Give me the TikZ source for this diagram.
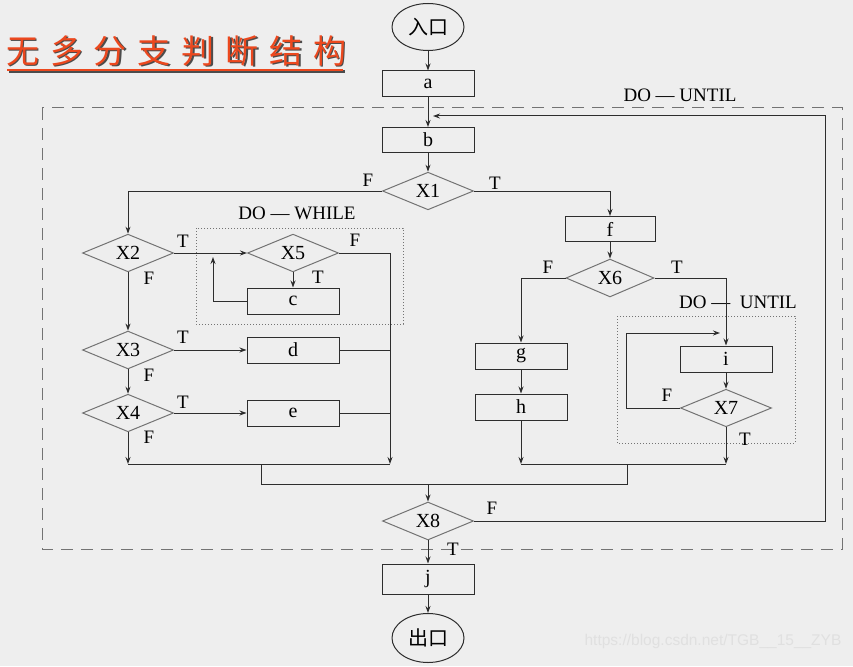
\documentclass[tikz,border=0pt]{standalone}
\usepackage{fontspec}
\setmainfont{Liberation Serif}
\newfontfamily\cjk{Noto Sans CJK SC}
\newfontfamily\titlefont[LetterSpace=33]{Noto Sans CJK SC}
\newfontfamily\wmfont{Liberation Sans}
\usetikzlibrary{shapes.geometric,arrows.meta}
\definecolor{bgcol}{RGB}{238,238,238}
\definecolor{titlered}{RGB}{236,72,30}
\definecolor{linegray}{RGB}{45,45,45}
\definecolor{edgegray}{RGB}{115,115,115}

\tikzset{
    proc/.style={draw=linegray, line width=1pt, rectangle, minimum width=92pt,
        minimum height=26pt, inner sep=0pt, font=\fontsize{20}{22}\selectfont},
    cond/.style={draw=edgegray, line width=1pt, diamond, minimum width=91pt,
        minimum height=33pt, inner sep=0pt, font=\fontsize{20}{22}\selectfont},
    term/.style={draw=linegray, line width=1pt, ellipse, minimum width=72pt,
        minimum height=47pt, inner sep=0pt, font=\cjk\fontsize{20}{22}\selectfont},
    flow/.style={draw=linegray, line width=1pt},
    arr/.style={flow, -{Stealth[length=7pt,width=5pt]}},
    lbl/.style={inner sep=0pt, font=\fontsize{19}{20}\selectfont},
    loopbox/.style={draw=edgegray, line width=1pt, dotted},
    heading/.style={inner sep=0pt, font=\titlefont\fontsize{33}{36}\selectfont},
}

\begin{document}
\begin{tikzpicture}[x=1pt,y=-1pt]
        % Background and title
        \fill[bgcol] (0,0) rectangle (853,666);
        \node[heading, text=black!70, anchor=west] (titleshadow) at (7.5,52.5) {无多分支判断结构};
        \draw[black!70, line width=2.5pt] (8.5,71.5) -- (344.5,71.5);
        \node[heading, text=titlered, anchor=west] (title) at (6,51) {无多分支判断结构};
        \draw[titlered, line width=2.5pt] (7,70) -- (343,70);

        % Loop frames
        \draw[edgegray, line width=1pt, dash pattern=on 12pt off 8pt] (42,108) rectangle (842,549);
        \draw[loopbox] (196,228) rectangle (403,324);
        \draw[loopbox] (617,316) rectangle (795,443);
        \node[lbl] (outerloop) at (680,95) {DO — UNTIL};
        \node[lbl] (whileloop) at (297,213) {DO — WHILE};
        \node[lbl] (innerloop) at (738,302) {DO —\ \ UNTIL};

        % Main column
        \node[term] (in) at (428,27) {入口};
        \node[proc] (a) at (428,84) {a};
        \node[proc, minimum height=25pt] (b) at (428,140) {b};
        \node[cond] (x1) at (428,191) {X1};

        % Left branch
        \node[cond] (x2) at (128,253) {X2};
        \node[cond] (x5) at (293,253) {X5};
        \node[proc] (c) at (293,301) {c};
        \node[cond] (x3) at (128,350) {X3};
        \node[proc] (d) at (293,350) {d};
        \node[cond] (x4) at (128,413) {X4};
        \node[proc] (e) at (293,413) {e};

        % Right branch
        \node[proc, minimum width=90pt, minimum height=25pt] (f) at (610,229) {f};
        \node[cond, minimum width=88pt] (x6) at (610,278) {X6};
        \node[proc] (g) at (521,356) {g};
        \node[proc] (h) at (521,407) {h};
        \node[proc] (i) at (726,359) {i};
        \node[cond] (x7) at (726,408) {X7};

        % Exit part
        \node[cond] (x8) at (428,521) {X8};
        \node[proc, minimum height=30pt] (j) at (428,579) {j};
        \node[term, minimum height=49pt] (out) at (428,638) {出口};

        % Junctions
        \coordinate (jl) at (128,464);
        \coordinate (jr) at (390,464);
        \coordinate (kl) at (521,464);
        \coordinate (kr) at (726,464);
        \coordinate (ml) at (261,484);
        \coordinate (mr) at (627,484);
        \coordinate (mc) at (428,484);
        \coordinate (cup) at (213,257);
        \coordinate (iback) at (720,333);
        \coordinate (bend) at (626,333);
        \coordinate (rtop) at (825,116);
        \coordinate (back) at (433,116);

        % Connectors
        \draw[arr] (in) -- (a);
        \draw[arr] (a) -- (b);
        \draw[arr] (b) -- (x1);
        \draw[arr] (x1.west) -| (x2.north);
        \draw[arr] (x1.east) -| (f.north);
        \draw[arr] (x2.east) -- (x5.west);
        \draw[arr] (x5) -- (c);
        \draw[arr] (c.west) -| (cup);
        \draw[arr] (x5.east) -| (jr);
        \draw[arr] (x2) -- (x3);
        \draw[arr] (x3) -- (d);
        \draw[flow] (d.east) -- (d.east -| jr);
        \draw[arr] (x3) -- (x4);
        \draw[arr] (x4) -- (e);
        \draw[flow] (e.east) -- (e.east -| jr);
        \draw[arr] (x4) -- (jl);
        \draw[flow] (jl) -- (jr);
        \draw[arr] (f) -- (x6);
        \draw[arr] (x6.west) -| (g.north);
        \draw[arr] (g) -- (h);
        \draw[arr] (h) -- (kl);
        \draw[arr] (x6.east) -| (i.north);
        \draw[arr] (i) -- (x7);
        \draw[arr] (x7.west) -| (bend) -- (iback);
        \draw[arr] (x7) -- (kr);
        \draw[flow] (kl) -- (kr);
        \draw[flow] (ml |- jl) -- (ml) -- (mr) -- (mr |- kl);
        \draw[arr] (mc) -- (x8);
        \draw[arr] (x8.east) -| (rtop) -- (back);
        \draw[arr] (x8) -- (j);
        \draw[arr] (j) -- (out);

        % Branch labels
        \node[lbl] (x1f) at (368,180) {F};
        \node[lbl] (x1t) at (495,183) {T};
        \node[lbl] (x2t) at (183,241) {T};
        \node[lbl] (x2f) at (149,278) {F};
        \node[lbl] (x5f) at (355,240) {F};
        \node[lbl] (x5t) at (318,277) {T};
        \node[lbl] (x3t) at (183,337) {T};
        \node[lbl] (x3f) at (149,375) {F};
        \node[lbl] (x4t) at (183,402) {T};
        \node[lbl] (x4f) at (149,437) {F};
        \node[lbl] (x6f) at (548,267) {F};
        \node[lbl] (x6t) at (677,267) {T};
        \node[lbl] (x7f) at (667,395) {F};
        \node[lbl] (x7t) at (745,439) {T};
        \node[lbl] (x8f) at (492,508) {F};
        \node[lbl] (x8t) at (453,549) {T};

        % Watermark
        \node[text=white!88!black, font=\wmfont\fontsize{15.5}{16}\selectfont] (mark) at (713,641) {https://blog.csdn.net/TGB\_\_15\_\_ZYB};
\end{tikzpicture}
\end{document}
